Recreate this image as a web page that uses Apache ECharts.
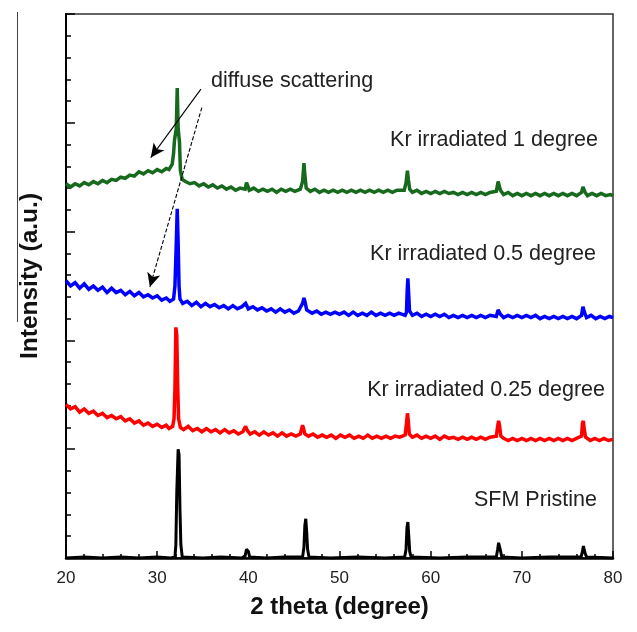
<!DOCTYPE html>
<html>
<head>
<meta charset="utf-8">
<script src="https://cdn.jsdelivr.net/npm/echarts@6/dist/echarts.min.js"></script>
<style>
html,body{margin:0;padding:0;background:#fff;}
#chart{width:637px;height:632px;}
</style>
</head>
<body>
<div id="chart"></div>
<script>
// x-axis tick labels
var xTicks = [20, 30, 40, 50, 60, 70, 80];

// series names
var seriesNames = ['SFM Pristine', 'Kr irradiated 0.25 degree', 'Kr irradiated 0.5 degree', 'Kr irradiated 1 degree'];

// [2theta, intensity (a.u., offset)]
var pristine = [[20,0],[22,1],[24,0],[26,1],[28,0],[30,1],[31.5,0],[31.95,1],[32.05,12],[32.15,60],[32.3,100],[32.4,95],[32.5,45],[32.6,12],[32.75,1],[35,0],[37,1],[39.3,0],[39.65,2],[39.8,8],[39.9,9],[40.0,6],[40.15,1],[42,0],[44,1],[45.95,1],[46.1,10],[46.2,30],[46.3,36],[46.4,24],[46.5,8],[46.65,1],[49,0],[52,1],[55,0],[57.15,1],[57.3,8],[57.4,28],[57.5,33],[57.6,20],[57.7,6],[57.85,1],[61,0],[64,1],[67.2,1],[67.35,8],[67.45,14],[67.55,15],[67.65,7],[67.8,1],[70,0],[73,1],[76.5,1],[76.65,6],[76.75,11],[76.85,10],[76.95,4],[77.1,1],[80,0]];

var kr025 = [[20,141],[20.5,137],[21,139],[21.5,134],[22,137],[22.5,133],[23,135],[23.5,131],[24,133],[24.5,129],[25,131],[25.5,128],[26,130],[26.5,126],[27,128],[27.5,124],[28,126],[28.5,122],[29,124],[29.5,121],[30,123],[30.5,120],[31,122],[31.3,119],[31.7,121],[31.85,128],[31.95,156],[32.05,212],[32.15,205],[32.25,160],[32.35,128],[32.55,120],[32.9,118],[33.4,121],[33.9,117],[34.4,119],[34.9,116],[35.4,119],[35.9,116],[36.4,118],[36.9,115],[37.4,118],[37.9,115],[38.4,117],[38.9,114],[39.4,116],[39.6,117],[39.7,121],[39.8,122],[39.9,117],[40.2,114],[40.7,116],[41.2,113],[41.7,116],[42.2,113],[42.7,115],[43.2,112],[43.7,115],[44.2,112],[44.7,114],[45.2,112],[45.7,114],[45.85,115],[45.95,122],[46.05,119],[46.2,114],[46.6,112],[47.1,114],[47.6,111],[48.1,113],[48.6,111],[49.1,113],[49.6,110],[50.1,113],[50.6,111],[51.1,113],[51.6,110],[52.1,112],[52.6,110],[53.1,113],[53.6,110],[54.1,112],[54.6,110],[55.1,112],[55.6,110],[56.1,112],[56.6,111],[57.2,113],[57.35,124],[57.45,133],[57.55,126],[57.65,114],[58.0,111],[58.5,113],[59.0,110],[59.5,112],[60.0,110],[60.5,112],[61.0,109],[61.5,112],[62.0,110],[62.5,111],[63.0,109],[63.5,111],[64.0,109],[64.5,111],[65.0,109],[65.5,111],[66.0,109],[66.5,111],[67.2,112],[67.35,121],[67.45,126],[67.55,122],[67.7,112],[68.0,110],[68.5,108],[69.0,110],[69.5,108],[70.0,110],[70.5,108],[71.0,110],[71.5,108],[72.0,110],[72.5,108],[73.0,110],[73.5,108],[74.0,110],[74.5,108],[75.0,110],[75.5,108],[76.0,110],[76.55,112],[76.65,124],[76.75,126],[76.85,118],[77.0,111],[77.5,108],[78.0,110],[78.5,108],[79.0,110],[79.5,108],[80,109]];

var kr05 = [[20,255],[20.5,250],[21,253],[21.5,248],[22,252],[22.5,247],[23,250],[23.5,246],[24,249],[24.5,244],[25,248],[25.5,244],[26,246],[26.5,242],[27,245],[27.5,241],[28,244],[28.5,240],[29,242],[29.5,239],[30,241],[30.5,237],[31,239],[31.4,236],[31.8,238],[31.95,250],[32.1,290],[32.2,321],[32.3,290],[32.4,250],[32.5,238],[32.8,234],[33.3,236],[33.8,232],[34.3,235],[34.8,231],[35.3,234],[35.8,231],[36.3,233],[36.8,230],[37.3,232],[37.8,229],[38.3,232],[38.8,229],[39.3,231],[39.7,234],[39.8,233],[40.0,229],[40.5,231],[41.0,228],[41.5,230],[42.0,227],[42.5,229],[43.0,226],[43.5,229],[44.0,226],[44.5,228],[45.0,225],[45.5,227],[45.95,234],[46.1,239],[46.2,236],[46.4,228],[47,225],[47.5,227],[48,224],[48.5,226],[49,224],[49.5,226],[50,224],[50.5,226],[51,223],[51.5,226],[52,223],[52.5,225],[53,223],[53.5,226],[54,223],[54.5,225],[55,223],[55.5,225],[56,223],[56.5,225],[57.2,223],[57.35,226],[57.42,245],[57.5,257],[57.58,244],[57.68,227],[58.0,223],[58.5,225],[59.0,222],[59.5,224],[60.0,222],[60.5,224],[61.0,222],[61.5,224],[62.0,221],[62.5,223],[63.0,221],[63.5,223],[64.0,221],[64.5,223],[65.0,221],[65.5,223],[66.0,221],[66.5,223],[67.2,222],[67.4,228],[67.5,229],[67.65,224],[68,221],[68.5,223],[69,221],[69.5,223],[70,221],[70.5,223],[71,221],[71.5,223],[72,220],[72.5,222],[73,220],[73.5,222],[74,220],[74.5,222],[75,220],[75.5,222],[76,220],[76.55,223],[76.7,231],[76.8,232],[76.9,225],[77.1,221],[77.6,223],[78.1,220],[78.6,222],[79.1,220],[79.6,222],[80,221]];

var kr1 = [[20,344],[20.5,341],[21,344],[21.5,342],[22,345],[22.5,343],[23,346],[23.5,344],[24,347],[24.5,345],[25,348],[25.5,347],[26,350],[26.5,349],[27,352],[27.5,351],[28,355],[28.5,353],[29,356],[29.5,354],[30,357],[30.5,355],[31,358],[31.3,357],[31.65,362],[31.8,372],[31.9,384],[32.1,395],[32.2,432],[32.3,395],[32.45,382],[32.55,356],[32.75,348],[33.1,346],[33.6,344],[34.1,345],[34.6,342],[35.1,344],[35.6,341],[36.1,343],[36.6,340],[37.1,342],[37.6,339],[38.1,341],[38.6,338],[39.1,340],[39.65,339],[39.8,345],[39.9,343],[40.1,338],[40.6,340],[41.1,337],[41.6,339],[42.1,337],[42.6,339],[43.1,336],[43.6,339],[44.1,337],[44.6,339],[45.1,337],[45.7,339],[45.95,346],[46.1,363],[46.2,352],[46.35,340],[46.8,337],[47.3,339],[47.8,336],[48.3,338],[48.8,336],[49.3,338],[49.8,336],[50.3,338],[50.8,336],[51.3,338],[51.8,336],[52.3,338],[52.8,336],[53.3,338],[53.8,336],[54.3,338],[54.8,336],[55.3,338],[55.8,336],[56.3,338],[57.1,338],[57.3,345],[57.45,356],[57.55,348],[57.7,339],[58.0,336],[58.5,338],[59.0,335],[59.5,337],[60.0,335],[60.5,337],[61.0,335],[61.5,337],[62.0,335],[62.5,336],[63.0,334],[63.5,336],[64.0,334],[64.5,336],[65.0,334],[65.5,336],[66.0,334],[66.5,336],[67.2,337],[67.4,346],[67.5,347],[67.65,338],[68,334],[68.5,336],[69,333],[69.5,335],[70,333],[70.5,335],[71,333],[71.5,335],[72,333],[72.5,335],[73,333],[73.5,335],[74,333],[74.5,335],[75,333],[75.5,335],[76,333],[76.55,336],[76.7,341],[76.8,341],[76.95,336],[77.2,333],[77.7,335],[78.2,333],[78.7,335],[79.2,333],[79.7,334],[80,333]];

// annotation arrows (data coordinates): [start, end]
var arrowSolid = [[34.8, 431], [29.3, 368]];
var arrowDashed = [[34.9, 414], [29.2, 249]];

var colors = ['#000000', '#ff0000', '#0000ff', '#17691d'];

var chart = echarts.init(document.getElementById('chart'), null, {renderer: 'canvas'});
var FONT = 'Liberation Sans, Arial, sans-serif';

function lineSeries(name, data, color, width) {
  return {
    name: name, type: 'line', data: data, showSymbol: false, symbol: 'none',
    lineStyle: {color: color, width: width, join: 'miter', miterLimit: 2},
    animation: false, z: 3
  };
}

var series = [
  lineSeries(seriesNames[0], pristine, colors[0], 3),
  lineSeries(seriesNames[1], kr025, colors[1], 3.5),
  lineSeries(seriesNames[2], kr05, colors[2], 3.5),
  lineSeries(seriesNames[3], kr1, colors[3], 3.5)
];
series.push({
  type: 'line', data: [], animation: false, z: 4,
  markLine: {
    silent: true, animation: false, symbol: ['none', 'arrow'], symbolSize: [10, 14],
    label: {show: false},
    data: [
      [{coord: arrowSolid[0], lineStyle: {type: 'solid'}}, {coord: arrowSolid[1]}],
      [{coord: arrowDashed[0], lineStyle: {type: [4, 2]}}, {coord: arrowDashed[1]}]
    ],
    lineStyle: {color: '#000', width: 1.1}
  }
});

var option = {
  animation: false,
  backgroundColor: '#ffffff',
  grid: {left: 66, top: 14, width: 547, height: 544, show: true, borderColor: '#333', borderWidth: 1.5, backgroundColor: 'transparent'},
  xAxis: {
    type: 'value', min: xTicks[0], max: xTicks[xTicks.length - 1], interval: 10,
    axisLine: {show: true, onZero: false, lineStyle: {color: '#000', width: 2.5}},
    axisTick: {show: true, inside: true, length: 7, lineStyle: {color: '#000', width: 1.5}},
    minorTick: {show: true, splitNumber: 5, length: 4, lineStyle: {color: '#000', width: 1.5}},
    splitLine: {show: false},
    axisLabel: {color: '#222', fontSize: 17, fontFamily: FONT, margin: 12},
    name: '2 theta (degree)', nameLocation: 'middle', nameGap: 37,
    nameTextStyle: {color: '#111', fontSize: 24, fontWeight: 'bold', fontFamily: FONT}
  },
  yAxis: {
    type: 'value', min: 0, max: 500, interval: 100,
    axisLine: {show: true, onZero: false, lineStyle: {color: '#000', width: 2}},
    axisTick: {show: true, inside: true, length: 9, lineStyle: {color: '#000', width: 1.5}},
    minorTick: {show: true, splitNumber: 5, length: 5, lineStyle: {color: '#000', width: 1.5}},
    splitLine: {show: false},
    axisLabel: {show: false}
  },
  graphic: [
    {type: 'text', left: 211, top: 70, z: 10, style: {text: 'diffuse scattering', fill: '#222', font: '21.5px ' + FONT}},
    {type: 'text', right: 637 - 598, top: 129, z: 10, style: {text: seriesNames[3], fill: '#222', font: '21.5px ' + FONT}},
    {type: 'text', right: 637 - 596, top: 243, z: 10, style: {text: seriesNames[2], fill: '#222', font: '21.5px ' + FONT}},
    {type: 'text', right: 637 - 605, top: 379, z: 10, style: {text: seriesNames[1], fill: '#222', font: '21.5px ' + FONT}},
    {type: 'text', right: 637 - 597, top: 489, z: 10, style: {text: seriesNames[0], fill: '#222', font: '21.5px ' + FONT}},
    {type: 'text', x: 30, y: 276, rotation: Math.PI / 2, z: 10,
      style: {text: 'Intensity (a.u.)', fill: '#111', font: 'bold 24.5px ' + FONT, textAlign: 'center', textVerticalAlign: 'middle'}},
    {type: 'line', z: 10, shape: {x1: 17.5, y1: 12, x2: 17.5, y2: 322}, style: {stroke: '#444', lineWidth: 1}}
  ],
  series: series
};
chart.setOption(option);
</script>
</body>
</html>
